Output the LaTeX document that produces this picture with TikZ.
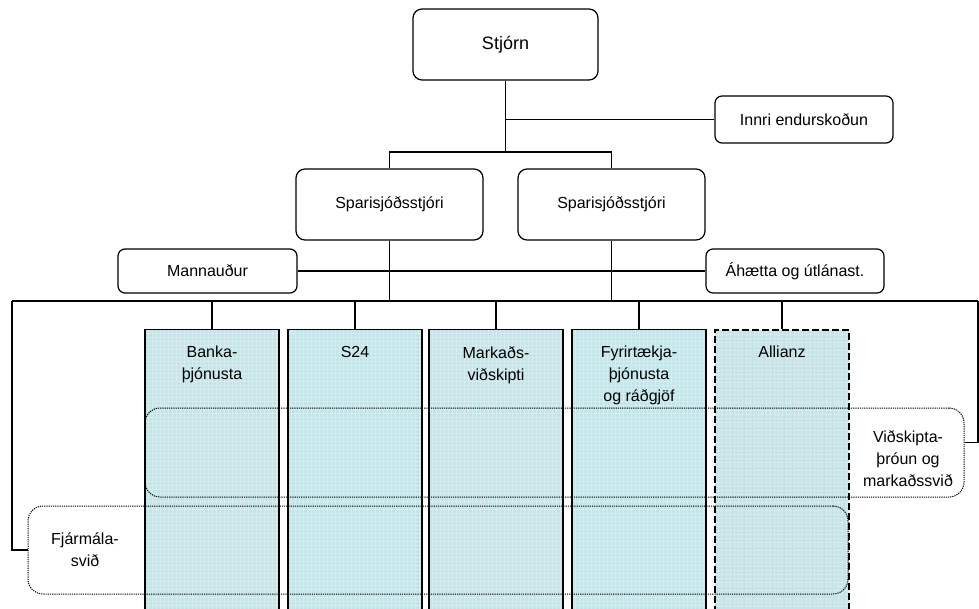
\documentclass[tikz,border=0pt]{standalone}
\usepackage{fontspec}
\setmainfont{Liberation Sans}
\definecolor{colfill}{RGB}{197,228,232}

\begin{document}
\begin{tikzpicture}[x=1pt,y=-1pt,
  orgbox/.style={draw,line width=1.2pt,rounded corners=9pt,fill=white,align=center,inner sep=0pt,font=\fontsize{16}{22}\selectfont},
  colbox/.style={draw,line width=1.2pt,fill=colfill,minimum width=134pt,minimum height=296pt,anchor=north,inner sep=0pt,
    path picture={\draw[white,opacity=0.3,line width=0.5pt] (path picture bounding box.south west) grid[step=4pt] (path picture bounding box.north east);}},
  coltext/.style={align=center,inner sep=0pt,font=\fontsize{16}{22}\selectfont},
  area/.style={draw,dash pattern=on 1.2pt off 1pt,line width=1pt,rounded corners=15pt,inner sep=0pt},
  link/.style={line width=1.2pt}]

\useasboundingbox (0,0) rectangle (979,609);
\clip (0,0) rectangle (979,609);

% top of the chart
\node[orgbox,minimum width=185pt,minimum height=71pt,font=\fontsize{18}{22}\selectfont] (stjorn) at (505.5,44.5) {Stjórn};
\node[orgbox,minimum width=178pt,minimum height=47pt,rounded corners=7pt] (innri) at (804,119.5) {Innri endurskoðun};

\node[orgbox,minimum width=187pt,minimum height=71pt] (spar1) at (389.5,204.5) {Sparisjóðsstjóri};
\node[orgbox,minimum width=187pt,minimum height=71pt] (spar2) at (611.5,204.5) {Sparisjóðsstjóri};

\node[orgbox,minimum width=179pt,minimum height=44pt,rounded corners=7pt] (mann) at (207.5,271) {Mannauður};
\node[orgbox,minimum width=178pt,minimum height=44pt,rounded corners=7pt] (ahaetta) at (795,271) {Áhætta og útlánast.};

% columns
\node[colbox] (banka) at (212,329) {};
\node[colbox] (s24) at (355,329) {};
\node[colbox] (markad) at (496,329) {};
\node[colbox] (fyrir) at (639,329) {};
\node[colbox,dash pattern=on 7pt off 3pt,line width=1.5pt] (allianz) at (782,329) {};

\node[coltext,anchor=north] (bankaT) at ([yshift=-17pt]banka.north) {Banka-\\þjónusta};
\node[coltext,anchor=north] (s24T) at ([yshift=-17pt]s24.north) {S24};
\node[coltext,anchor=north] (markadT) at ([yshift=-17pt]markad.north) {Markaðs-\\viðskipti};
\node[coltext,anchor=north] (fyrirT) at ([yshift=-17pt]fyrir.north) {Fyrirtækja-\\þjónusta\\og ráðgjöf};
\node[coltext,anchor=north] (allianzT) at ([yshift=-17pt]allianz.north) {Allianz};

% cross areas
\node[area,minimum width=819pt,minimum height=89pt] (vidsk) at (554.5,452.5) {};
\node[coltext] (vidskT) at (908,459) {Viðskipta-\\þróun og\\markaðssvið};
\node[area,minimum width=820pt,minimum height=88pt] (fjarm) at (438,550) {};
\node[coltext] (fjarmT) at (85,550) {Fjármála-\\svið};

\coordinate (fork) at (505.5,152);
\coordinate (busL) at (12,301);
\coordinate (busR) at (978,301);

\draw[link] (stjorn.south) -- (fork);
\draw[link] (innri.west) -- (innri.west -| stjorn.south);
\draw[link] (spar1.north) |- (fork) -| (spar2.north);
\draw[link] (mann.east) -- (ahaetta.west);
\draw[link] (spar1.south) -- (spar1.south |- busL);
\draw[link] (spar2.south) -- (spar2.south |- busL);
\draw[link] (busL) -- (busR);
\foreach \c in {banka,s24,markad,fyrir,allianz}
  \draw[link] (\c.north) -- (\c.north |- busL);
\draw[link] (busL) |- (fjarm.west);
\draw[link] (busR) |- ([yshift=10pt]vidsk.east);

\end{tikzpicture}
\end{document}
